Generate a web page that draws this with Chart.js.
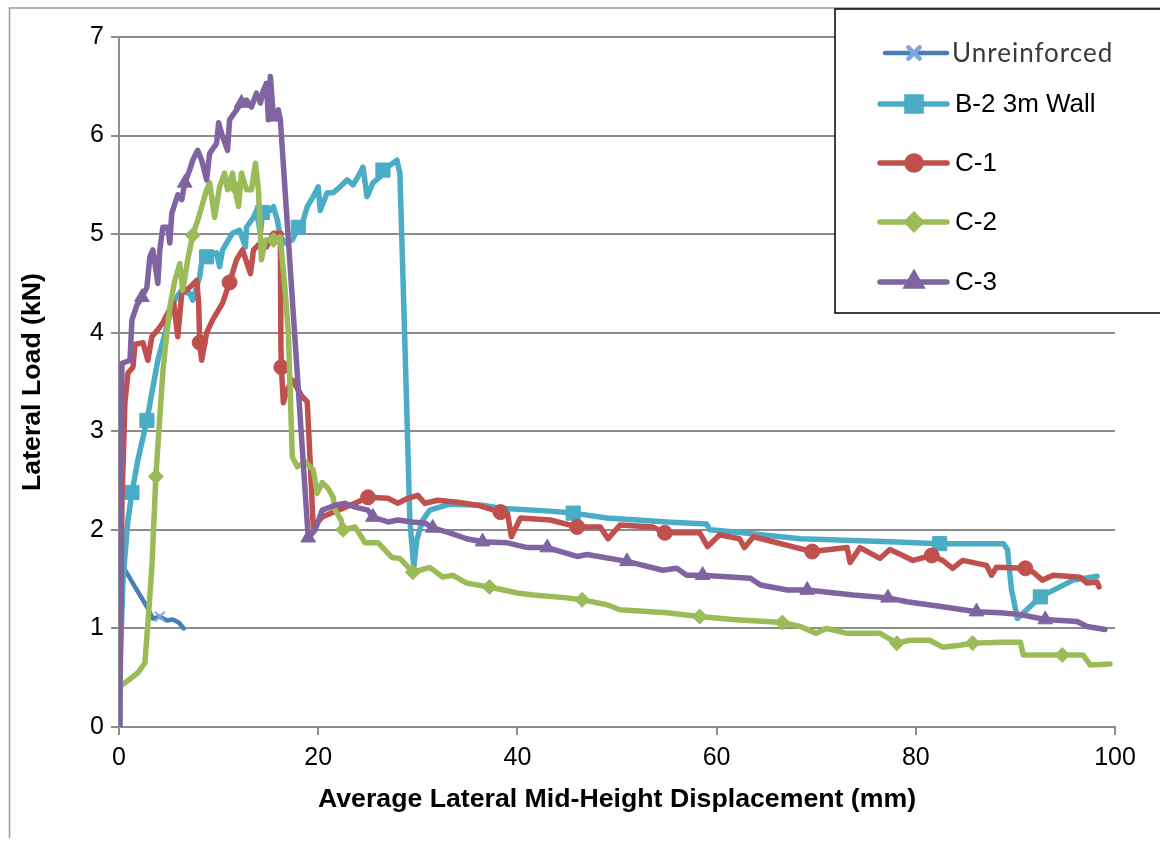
<!DOCTYPE html>
<html>
<head>
<meta charset="utf-8">
<title>Lateral Load vs Displacement</title>
<script src="https://cdn.jsdelivr.net/npm/chart.js@4.4.1/dist/chart.umd.min.js"></script>
<style>
  html, body { margin: 0; padding: 0; background: #fff; }
  #wrap { position: relative; width: 1160px; height: 842px; }
</style>
</head>
<body>
<div id="wrap"><canvas id="load-chart" width="1160" height="842"></canvas></div>
<script>
// Lateral load (kN) against average mid-height displacement (mm)

const xTicks = [0, 20, 40, 60, 80, 100];
const yTicks = [0, 1, 2, 3, 4, 5, 6, 7];

const unreinforcedX = [0, 0.1, 0.4, 1.5, 2.8, 3.4, 4.1, 4.8, 5.4, 6.0, 6.5];
const unreinforcedY = [0, 0.82, 1.63, 1.44, 1.22, 1.1, 1.12, 1.08, 1.09, 1.06, 1.0];
const unreinforcedMarks = [4.1];

const b2X = [0, 0.2, 0.4, 0.9, 1.3, 1.9, 2.8, 3.3, 3.9, 4.8, 5.4, 6.2, 7.1, 7.4, 8.1, 8.4, 8.8, 9.8, 10.1, 10.4,
  11.4, 12.1, 12.7, 12.8, 13.5, 13.8, 14.2, 14.4, 14.7, 15.2, 15.5, 15.9, 16.2, 16.7, 17.4, 18.0, 18.5, 18.9, 19.5, 20.0,
  20.2, 20.9, 21.5, 22.2, 22.9, 23.5, 24.2, 24.5, 24.9, 25.5, 26.2, 26.5, 27.5, 27.9, 28.2, 28.5, 28.9, 29.2, 29.6, 29.9,
  30.5, 31.2, 33.2, 36.5, 38.3, 43.3, 45.6, 49, 55, 59, 59.3, 61.6, 68.4, 77.4, 82.4, 88.8, 89.2, 89.6, 90.2, 92.5,
  95.8, 98.2];
const b2Y = [0, 0.9, 1.49, 2.1, 2.38, 2.71, 3.11, 3.39, 3.72, 4.06, 4.3, 4.42, 4.4, 4.33, 4.57, 4.78, 4.77, 4.81, 4.67, 4.84,
  5.01, 5.04, 4.87, 5.07, 5.17, 5.24, 5.01, 5.22, 5.24, 5.24, 5.28, 5.14, 4.97, 4.91, 4.94, 5.07, 5.14, 5.28, 5.38, 5.48,
  5.24, 5.42, 5.42, 5.48, 5.55, 5.5, 5.62, 5.68, 5.38, 5.52, 5.58, 5.65, 5.72, 5.75, 5.62, 4.6, 3.2, 2.1, 1.62, 1.9,
  2.1, 2.2, 2.26, 2.25, 2.22, 2.19, 2.17, 2.12, 2.08, 2.06, 2.0, 1.98, 1.91, 1.88, 1.86, 1.86, 1.8, 1.4, 1.1, 1.32,
  1.49, 1.53];
const b2Marks = [1.3, 2.8, 8.8, 14.4, 18.0, 26.5, 45.6, 82.4, 92.5];

const c1X = [0, 0.2, 0.3, 0.6, 0.9, 1.4, 1.6, 2.4, 2.9, 3.3, 3.9, 4.4, 4.9, 5.5, 5.9, 6.3, 7.0, 7.8, 8.0, 8.1,
  8.3, 8.8, 9.4, 10.4, 11.1, 11.8, 12.4, 13.2, 13.5, 14.2, 14.8, 15.5, 16.2, 16.25, 16.3, 16.5, 16.8, 17.4, 18.4, 18.9,
  19.2, 19.5, 20.4, 22, 23.7, 25, 27, 28, 29, 30, 30.7, 32, 34, 36, 38.3, 39.0, 39.4, 40.3, 43.3, 46,
  48.3, 49.1, 50.3, 53.6, 54.8, 58.3, 59.1, 60.3, 62.3, 62.8, 63.7, 68, 69.6, 73.1, 73.4, 74.4, 76.4, 77.4, 78.7, 79.7,
  81.6, 82.7, 83.7, 84.7, 87.1, 87.6, 88.1, 91, 91.8, 92.7, 93.8, 96.5, 97.2, 98.2, 98.4];
const c1Y = [0, 1.2, 2.3, 3.3, 3.59, 3.65, 3.88, 3.9, 3.72, 3.96, 4.03, 4.1, 4.2, 4.3, 3.96, 4.4, 4.45, 4.53, 4.3, 3.9,
  3.72, 4.0, 4.13, 4.3, 4.51, 4.74, 4.84, 4.6, 4.84, 4.91, 4.87, 5.01, 5.01, 3.9, 3.65, 3.29, 3.4, 3.52, 3.35, 3.3,
  2.68, 2.03, 2.13, 2.2, 2.27, 2.33, 2.32, 2.27, 2.32, 2.35, 2.27, 2.3, 2.28, 2.25, 2.18, 2.17, 1.93, 2.12, 2.1, 2.03,
  2.03, 1.91, 2.05, 2.03, 1.97, 1.97, 1.83, 1.95, 1.91, 1.82, 1.93, 1.82, 1.78, 1.82, 1.67, 1.82, 1.71, 1.8, 1.74, 1.69,
  1.74, 1.69, 1.61, 1.69, 1.64, 1.54, 1.62, 1.61, 1.57, 1.49, 1.54, 1.52, 1.46, 1.47, 1.42];
const c1Marks = [8.1, 11.1, 16.3, 25, 38.3, 46, 54.8, 69.6, 81.6, 91];

const c2X = [0, 0.2, 1, 1.9, 2.6, 2.9, 3.3, 3.7, 4.1, 4.4, 4.6, 5.1, 5.6, 6.1, 6.4, 6.9, 7.4, 7.9, 8.4, 8.8,
  9.1, 9.6, 10.1, 10.6, 10.9, 11.4, 11.6, 12.0, 12.3, 12.8, 13.3, 13.7, 14.0, 14.3, 14.7, 15.5, 16.2, 16.7, 17.0, 17.4,
  17.9, 18.7, 19.5, 19.9, 20.4, 21.0, 21.5, 21.7, 22.3, 22.5, 23.7, 24.7, 26, 27.4, 28.2, 29.5, 31.2, 32.5, 33.5, 34.9,
  37.2, 40, 41.6, 45, 46.5, 49, 50.3, 55, 58.3, 61.6, 66.6, 68.4, 70, 71, 73.1, 76.4, 78.1, 79.4, 81.4, 82.7,
  84.4, 85.7, 88.5, 90.5, 90.8, 92.5, 94.7, 96.8, 97.5, 99.5];
const c2Y = [0.37, 0.42, 0.48, 0.55, 0.65, 1.05, 1.62, 2.54, 3.15, 3.6, 3.8, 4.26, 4.53, 4.7, 4.43, 4.74, 4.99, 5.14, 5.31, 5.45,
  5.52, 5.17, 5.48, 5.62, 5.45, 5.62, 5.48, 5.28, 5.62, 5.45, 5.45, 5.72, 5.45, 4.74, 4.94, 4.94, 4.97, 4.4, 4.0, 2.74,
  2.64, 2.69, 2.61, 2.37, 2.48, 2.42, 2.33, 2.2, 2.1, 2.0, 2.03, 1.87, 1.87, 1.72, 1.71, 1.57, 1.62, 1.52, 1.54, 1.46,
  1.42, 1.36, 1.34, 1.31, 1.29, 1.24, 1.19, 1.16, 1.12, 1.09, 1.06, 1.02, 0.95, 1.0, 0.95, 0.95, 0.85, 0.88, 0.88, 0.81,
  0.83, 0.85, 0.86, 0.86, 0.73, 0.73, 0.73, 0.73, 0.63, 0.64];
const c2Marks = [3.7, 7.4, 11.6, 15.5, 22.5, 29.5, 37.2, 46.5, 58.3, 66.6, 78.1, 85.7, 94.7];

const c3X = [0, 0.1, 0.2, 0.3, 1.1, 1.3, 1.8, 2.3, 2.8, 3.1, 3.4, 3.9, 4.1, 4.4, 4.9, 5.1, 5.3, 5.9, 6.3, 6.6,
  7.1, 7.4, 7.9, 8.3, 8.8, 9.1, 9.8, 10.0, 10.4, 10.9, 11.1, 11.8, 12.3, 12.8, 13.3, 13.8, 14.2, 14.5, 14.8, 15.0,
  15.2, 15.5, 16.0, 16.2, 19.0, 19.7, 20.4, 21.7, 22.7, 23.7, 25, 25.5, 26.4, 27, 28, 29.4, 30.7, 31.5, 33.2, 34.9,
  36.5, 38.9, 41, 43, 46, 47, 51, 54.6, 56, 57, 58.6, 63.4, 64.4, 67.1, 69.1, 73.7, 77.2, 79.1, 82.7, 86.1,
  88.5, 90.5, 93, 96.2, 97.2, 99];
const c3Y = [0, 1.0, 2.13, 3.69, 3.72, 4.13, 4.28, 4.36, 4.46, 4.77, 4.84, 4.5, 4.84, 5.07, 5.07, 4.91, 5.21, 5.4, 5.35, 5.52,
  5.65, 5.75, 5.85, 5.75, 5.55, 5.82, 5.92, 6.13, 5.99, 5.85, 6.16, 6.26, 6.33, 6.36, 6.29, 6.43, 6.33, 6.46, 6.53, 6.16,
  6.6, 6.19, 6.26, 6.16, 1.92, 2.0, 2.2, 2.25, 2.27, 2.23, 2.2, 2.13, 2.1, 2.08, 2.1, 2.08, 2.07, 2.02, 1.97, 1.91,
  1.88, 1.87, 1.82, 1.82, 1.73, 1.75, 1.68, 1.59, 1.61, 1.54, 1.54, 1.51, 1.44, 1.39, 1.39, 1.34, 1.31, 1.27, 1.22, 1.17,
  1.16, 1.14, 1.09, 1.07, 1.02, 0.99];
const c3Marks = [2.3, 6.6, 12.3, 15.5, 19.0, 25.5, 31.5, 36.5, 43, 51, 58.6, 69.1, 77.2, 86.1, 93];

const toPoints = (xs, ys) => xs.map((x, i) => ({ x: x, y: ys[i] }));

function makeSeries(label, xs, ys, marks, color, markColor, style, radius, width, order) {
  return {
    label: label,
    data: toPoints(xs, ys),
    showLine: true,
    borderColor: color,
    backgroundColor: color,
    borderWidth: width,
    borderJoinStyle: "round",
    borderCapStyle: "round",
    tension: 0,
    pointStyle: style,
    pointBackgroundColor: markColor,
    pointBorderColor: markColor,
    pointBorderWidth: style === "crossRot" ? 2 : 1,
    pointRadius: (ctx) => (ctx.raw && marks.includes(ctx.raw.x) ? radius : 0),
    pointHoverRadius: 0,
    order: order,
  };
}

const datasets = [
  makeSeries("Unreinforced", unreinforcedX, unreinforcedY, unreinforcedMarks, "#4a7ebb", "#7fa6dc", "crossRot", 7, 4.5, 4),
  makeSeries("B-2 3m Wall", b2X, b2Y, b2Marks, "#4bacc6", "#4bacc6", "rect", 10, 5.5, 3),
  makeSeries("C-1", c1X, c1Y, c1Marks, "#c0504d", "#c0504d", "circle", 7.5, 5.5, 2),
  makeSeries("C-2", c2X, c2Y, c2Marks, "#9bbb59", "#9bbb59", "rectRot", 7.5, 5.5, 1),
  makeSeries("C-3", c3X, c3Y, c3Marks, "#8064a2", "#8064a2", "triangle", 8.5, 5.5, 0),
];

// outer frame lines of the chart object
const framePlugin = {
  id: "frame",
  beforeDraw(chart) {
    const ctx = chart.ctx;
    ctx.save();
    ctx.fillStyle = "#ffffff";
    ctx.fillRect(0, 0, chart.width, chart.height);
    ctx.strokeStyle = "#9a9a9a";
    ctx.lineWidth = 1.5;
    ctx.beginPath();
    ctx.moveTo(9.5, 838);
    ctx.lineTo(9.5, 8);
    ctx.lineTo(1160, 8);
    ctx.stroke();
    ctx.restore();
  },
};

// boxed legend in the top right corner
const boxLegend = {
  id: "boxLegend",
  afterDraw(chart) {
    const ctx = chart.ctx;
    const rows = [53, 104, 163, 222, 282];
    ctx.save();
    ctx.fillStyle = "#ffffff";
    ctx.fillRect(835, 9, 330, 304);
    ctx.strokeStyle = "#000000";
    ctx.lineWidth = 1.5;
    ctx.strokeRect(835, 9, 330, 304);
    chart.data.datasets.forEach((ds, i) => {
      const y = rows[i];
      ctx.strokeStyle = ds.borderColor;
      ctx.lineWidth = ds.borderWidth;
      ctx.lineCap = "round";
      ctx.beginPath();
      ctx.moveTo(i === 0 ? 885 : 880, y);
      ctx.lineTo(947, y);
      ctx.stroke();
      ctx.fillStyle = ds.pointBackgroundColor;
      ctx.strokeStyle = ds.pointBorderColor;
      const r = { crossRot: 8, rect: 10, circle: 7, rectRot: 7, triangle: 8 }[ds.pointStyle];
      Chart.helpers.drawPoint(ctx, {
        pointStyle: ds.pointStyle,
        radius: r,
        rotation: 0,
        borderWidth: ds.pointBorderWidth,
      }, 914, y);
      ctx.textBaseline = "middle";
      ctx.textAlign = "left";
      if (i === 0) {
        ctx.font = "26px Lato, 'Open Sans', sans-serif";
        ctx.fillStyle = "#3a3a3a";
        ctx.letterSpacing = "1px";
      } else {
        ctx.font = "26px 'Liberation Sans', Arial, sans-serif";
        ctx.fillStyle = "#000000";
        ctx.letterSpacing = "0px";
      }
      ctx.fillText(ds.label, i === 0 ? 952 : 955, y + 1);
    });
    ctx.restore();
  },
};

const gridGray = "#8c8c8c";
const tickFont = { family: "'Liberation Sans', Arial, sans-serif", size: 25 };
const titleFont = { family: "'Liberation Sans', Arial, sans-serif", size: 26.7, weight: "bold" };

const loadCtx = document.getElementById("load-chart").getContext("2d");
const loadChart = new Chart(loadCtx, {
  type: "scatter",
  data: { datasets: datasets },
  plugins: [framePlugin, boxLegend],
  options: {
    responsive: false,
    animation: false,
    events: [],
    layout: { padding: { left: 0, top: 37, right: 45, bottom: 0 } },
    plugins: {
      legend: { display: false },
      tooltip: { enabled: false },
    },
    scales: {
      x: {
        type: "linear",
        min: 0,
        max: 100,
        afterBuildTicks: (scale) => { scale.ticks = xTicks.map((v) => ({ value: v })); },
        afterFit: (scale) => { scale.height = 115; },
        grid: { drawOnChartArea: false, drawTicks: true, tickLength: 8, color: gridGray, lineWidth: 2 },
        border: { color: gridGray, width: 2 },
        ticks: { color: "#000", font: tickFont, padding: 8, maxRotation: 0 },
        title: { display: true, text: "Average Lateral Mid-Height Displacement (mm)", color: "#000", font: titleFont, padding: { top: 0, bottom: 26 } },
      },
      y: {
        type: "linear",
        min: 0,
        max: 7,
        afterBuildTicks: (scale) => { scale.ticks = yTicks.map((v) => ({ value: v })); },
        afterFit: (scale) => { scale.width = 119; },
        grid: { color: gridGray, lineWidth: 2, drawTicks: true, tickLength: 8 },
        border: { color: gridGray, width: 2 },
        ticks: { color: "#000", font: tickFont, padding: 7 },
        title: { display: true, text: "Lateral Load (kN)", color: "#000", font: titleFont, padding: { top: 17, bottom: 0 } },
      },
    },
  },
});
</script>
</body>
</html>
